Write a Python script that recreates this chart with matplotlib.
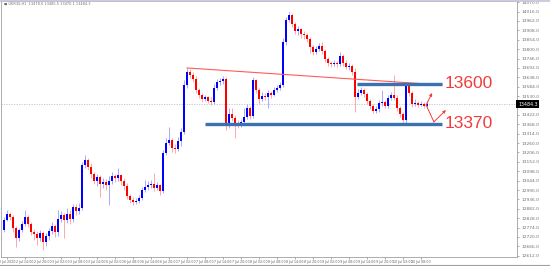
import matplotlib
matplotlib.use("Agg")
import matplotlib.pyplot as plt
from matplotlib.lines import Line2D
from matplotlib.transforms import blended_transform_factory
import numpy as np

# H1 candles (price units)
first_open = 12760
closes = [12818, 12852, 12835, 12772, 12714, 12760, 12795, 12835, 12795, 12749,
          12737, 12714, 12743, 12691, 12726, 12755, 12783, 12749, 12824, 12847,
          12818, 12852, 12824, 12893, 12870, 12887, 13134, 13163, 13123, 13083,
          13042, 13065, 13025, 13037, 13019, 13042, 13071, 13060, 13077, 13042,
          13014, 12956, 12933, 12922, 12927, 12945, 12991, 13008, 13019, 13025,
          13002, 13019, 12985, 13203, 13261, 13278, 13232, 13226, 13272, 13324,
          13594, 13669, 13652, 13629, 13566, 13537, 13514, 13525, 13502, 13497,
          13577, 13612, 13617, 13629, 13359, 13428, 13405, 13370, 13364, 13382,
          13410, 13462, 13416, 13623, 13566, 13514, 13531, 13525, 13548, 13537,
          13566, 13577, 13594, 13842, 13968, 13997, 13945, 13905, 13916, 13888,
          13882, 13859, 13813, 13784, 13801, 13819, 13790, 13744, 13721, 13715,
          13721, 13715, 13761, 13721, 13698, 13704, 13669, 13525, 13548, 13566,
          13543, 13502, 13474, 13445, 13456, 13491, 13497, 13474, 13520, 13537,
          13520, 13462, 13428, 13393, 13589, 13548, 13485, 13491, 13479, 13485,
          13474, 13485]
highs = [12835, 12875, 12864, 12847, 12783, 12772, 12812, 12875, 12847, 12806,
         12766, 12755, 12760, 12755, 12743, 12772, 12806, 12795, 12875, 12870,
         12858, 12887, 12875, 12910, 12910, 12916, 13152, 13192, 13175, 13146,
         13094, 13083, 13077, 13060, 13054, 13071, 13094, 13083, 13117, 13083,
         13060, 13031, 12968, 12950, 12945, 12962, 13008, 13048, 13042, 13048,
         13088, 13037, 13025, 13221, 13290, 13353, 13290, 13255, 13295, 13347,
         13623, 13692, 13686, 13669, 13646, 13577, 13548, 13537, 13531, 13525,
         13600, 13629, 13635, 13646, 13640, 13462, 13462, 13422, 13393, 13399,
         13462, 13485, 13474, 13640, 13629, 13577, 13554, 13548, 13566, 13560,
         13583, 13594, 13612, 13865, 13985, 14014, 14008, 13957, 13934, 13922,
         13905, 13893, 13870, 13824, 13819, 13836, 13842, 13801, 13755, 13732,
         13738, 13732, 13784, 13773, 13738, 13721, 13715, 13692, 13571, 13583,
         13577, 13554, 13514, 13485, 13474, 13508, 13566, 13508, 13537, 13554,
         13652, 13537, 13474, 13439, 13606, 13600, 13560, 13514, 13502, 13502,
         13497, 13502]
lows = [12749, 12812, 12818, 12749, 12663, 12697, 12749, 12783, 12778, 12732,
        12703, 12674, 12697, 12645, 12668, 12703, 12737, 12720, 12726, 12806,
        12714, 12801, 12795, 12806, 12847, 12852, 12875, 13117, 13106, 13060,
        13025, 13014, 12950, 13002, 12991, 12904, 13025, 13037, 13042, 13019,
        12991, 12939, 12916, 12904, 12910, 12916, 12933, 12979, 12991, 13002,
        12985, 12991, 12962, 12973, 13192, 13249, 13209, 13203, 13215, 13244,
        13313, 13577, 13635, 13612, 13548, 13520, 13497, 13502, 13491, 13479,
        13485, 13566, 13594, 13600, 13336, 13347, 13387, 13290, 13347, 13353,
        13370, 13399, 13399, 13405, 13548, 13485, 13502, 13508, 13462, 13520,
        13531, 13554, 13566, 13583, 13824, 13957, 13928, 13888, 13882, 13865,
        13859, 13842, 13778, 13767, 13773, 13790, 13773, 13727, 13704, 13698,
        13704, 13698, 13704, 13704, 13686, 13681, 13652, 13439, 13514, 13537,
        13525, 13485, 13456, 13433, 13433, 13439, 13474, 13462, 13462, 13508,
        13508, 13445, 13410, 13370, 13376, 13531, 13468, 13474, 13468, 13474,
        13462, 13468]

time_labels = ["2 Jul 2020", "2 Jul 14:00", "2 Jul 20:00", "3 Jul 02:00",
               "3 Jul 08:00", "3 Jul 14:00", "6 Jul 02:00", "6 Jul 08:00",
               "6 Jul 14:00", "6 Jul 20:00", "7 Jul 02:00", "7 Jul 08:00",
               "7 Jul 14:00", "7 Jul 20:00", "8 Jul 02:00", "8 Jul 08:00",
               "8 Jul 14:00", "8 Jul 20:00", "9 Jul 02:00", "9 Jul 08:00",
               "9 Jul 14:00", "9 Jul 20:00", "10 Jul 02:00", "10 Jul 08:00"]
current_price = 13484.3
# price scale labels; the one under the current-price tag is hidden
price_ticks = [v for v in range(12612, 14071, 54) if abs(v - current_price) > 20]

resistance = 13600
support = 13370
header = "■ GER30,H1  13478.0 13485.5 13470.1 13484.3"

# analyst drawings
trend_start = (61, 13692)
trend_end = (146, 13594)
arrow_up = [(140.7, 13479), (142.7, 13548)]
arrow_down = [(140.7, 13479), (143.3, 13382), (147.3, 13450)]

BULL, BEAR = "#0000ff", "#ff0000"
BULL_W, BEAR_W = "#9a9aff", "#ff9a9a"
LEVEL_BLUE = "#3a72b0"
NOTE_RED = "#f03c3c"

c = np.array(closes, dtype=float)
o = np.concatenate([[first_open], c[:-1]])
h = np.maximum(np.array(highs, dtype=float), np.maximum(o, c))
l = np.minimum(np.array(lows, dtype=float), np.minimum(o, c))
x = np.arange(len(c))
up = c >= o

W, H = 550, 266
fig = plt.figure(figsize=(W / 100, H / 100), dpi=100)
ax = fig.add_axes([1 / W, 1 - 257 / H, 516 / W, 256 / H])

ax.vlines(x[up], l[up], h[up], color=BULL_W, lw=0.6, zorder=2)
ax.vlines(x[~up], l[~up], h[~up], color=BEAR_W, lw=0.6, zorder=2)
body = np.maximum(np.abs(c - o), 3)
ax.bar(x[up], body[up], bottom=np.minimum(o, c)[up], width=0.62,
       color=BULL, lw=0, zorder=3)
ax.bar(x[~up], body[~up], bottom=np.minimum(o, c)[~up], width=0.62,
       color=BEAR, lw=0, zorder=3)

# current price line
ax.axhline(current_price, color="#b8c4d0", lw=0.6, ls=(0, (1.5, 1.5)), zorder=1)

# levels, trend line, arrows, labels
ax.plot([trend_start[0], trend_end[0]], [trend_start[1], trend_end[1]],
        color="#ff5a5a", lw=0.8, zorder=4)
ax.hlines(resistance, 117.7, 146, color=LEVEL_BLUE, lw=2.4, zorder=5)
ax.hlines(support, 67, 146, color=LEVEL_BLUE, lw=2.4, zorder=5)
ax.text(147, resistance, str(resistance), color=NOTE_RED, fontsize=12.5,
        family="Liberation Sans", va="center", ha="left")
ax.text(147, support, str(support), color=NOTE_RED, fontsize=12.5,
        family="Liberation Sans", va="center", ha="left")
for path in (arrow_up, arrow_down):
    px, py = zip(*path)
    ax.plot(px[:-1], py[:-1], color=NOTE_RED, lw=0.7, zorder=6)
    ax.annotate("", xy=path[-1], xytext=path[-2],
                arrowprops=dict(arrowstyle="-|>", color=NOTE_RED, lw=0.7,
                                mutation_scale=4, shrinkA=0, shrinkB=0))

ax.set_xlim(-1.0, 171.0)
ax.set_ylim(12605, 14077)

ax.yaxis.tick_right()
ax.set_yticks(price_ticks)
ax.set_yticklabels([f"{v:.1f}" for v in price_ticks])
ax.set_xticks(np.arange(1, 6 * len(time_labels), 6))
ax.set_xticklabels(time_labels)
ax.tick_params(axis="x", labelsize=2.3, length=1.2, width=0.4,
               colors="#606060", pad=1)
ax.tick_params(axis="y", labelsize=3.2, length=1.5, width=0.4,
               colors="#707070", pad=1.5)
for s in ax.spines.values():
    s.set_color("#a0a0a0")
    s.set_linewidth(0.6)

# current price tag on the price scale
tr = blended_transform_factory(ax.transAxes, ax.transData)
ax.text(1.002, current_price, f"{current_price:.1f}", transform=tr,
        fontsize=3.4, color="white", va="center", ha="left",
        bbox=dict(boxstyle="square,pad=0.35", fc="black", ec="none"))

fig.text(4 / W, 1 - 4 / H, header, fontsize=2.5, color="#707070",
         va="center", ha="left")
fig.add_artist(Line2D([0, 1], [1 - 0.6 / H] * 2, color="#c8c0d8", lw=1.2))
fig.add_artist(Line2D([0, 1], [1 - 265 / H] * 2, color="#a0a0a0", lw=0.8))

fig.savefig("out.png", dpi=100)
